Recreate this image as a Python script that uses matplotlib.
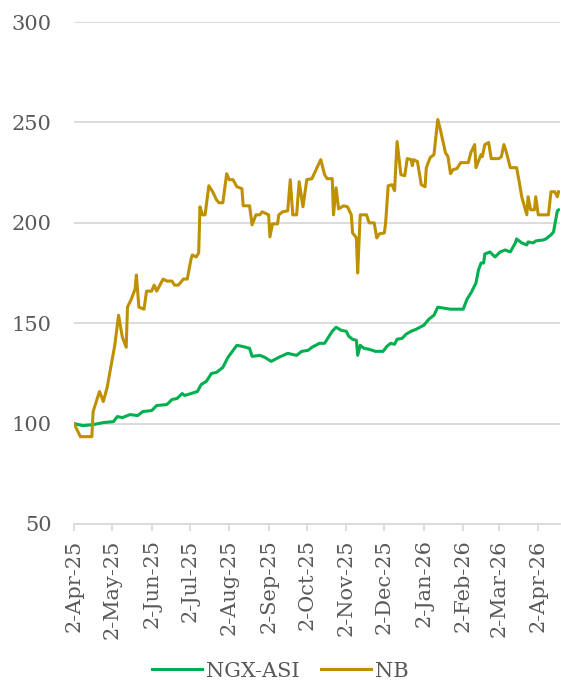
import numpy as np
import matplotlib
matplotlib.use("Agg")
from matplotlib import pyplot as plt
import matplotlib.dates as mdates

start = np.datetime64("2025-04-02")

# day offsets from 2-Apr-25 and rebased index levels
asi_days = [0, 7, 15, 23, 31, 34, 38, 44, 50, 54, 61, 65, 73, 77, 81, 85, 87, 92, 97, 100,
            104, 108, 112, 117, 121, 128, 132, 138, 140, 146, 150, 155, 161, 168, 175, 179,
            184, 187, 193, 197, 200, 203, 206, 210, 214, 216, 219, 222, 223, 225, 228, 232,
            237, 243, 246, 249, 252, 254, 258, 261, 265, 269, 275, 279, 283, 286, 291, 296,
            301, 306, 309, 312, 316, 318, 320, 322, 323, 327, 331, 335, 339, 343, 347, 348,
            352, 356, 357, 361, 363, 369, 371, 375, 377, 380, 381]
asi_vals = [100, 99, 99.5, 100.5, 101, 103.5, 103, 104.5, 104, 106, 106.5, 109, 109.5, 112,
            112.5, 115, 114, 115, 116, 119.5, 121, 125, 125.5, 128, 133, 139, 138.5, 137.5,
            133.5, 134, 133, 131, 133, 135, 134, 136, 136.5, 138, 140, 140, 143, 146, 148,
            146.5, 146, 143.5, 142, 141.5, 134, 139, 137.5, 137, 136, 136, 138.5, 140, 139.5,
            142, 142.5, 144.5, 146, 147, 149, 152, 154, 158, 157.5, 157, 157, 157, 162, 165,
            170, 176.5, 180, 180, 184.5, 185.5, 183, 185.5, 186.5, 185.5, 190, 192, 190, 189,
            190.5, 190, 191, 191.5, 192, 194, 195.5, 206, 206.5]

nb_days = [0, 5, 14, 15, 20, 23, 26, 28, 32, 35, 38, 41, 42, 45, 48, 49, 51, 55, 57, 61, 63,
           65, 70, 73, 77, 79, 82, 86, 89, 92, 93, 96, 98, 99, 101, 103, 106, 109, 112, 114,
           117, 120, 122, 125, 128, 132, 133, 138, 140, 143, 146, 148, 153, 154, 156, 160,
           161, 164, 168, 170, 172, 175, 177, 180, 183, 187, 190, 191, 194, 197, 199, 203,
           204, 206, 208, 212, 215, 218, 219, 222, 223, 225, 230, 232, 236, 238, 240, 244,
           245, 247, 250, 252, 254, 257, 260, 262, 265, 266, 267, 270, 273, 276, 277, 280,
           283, 286, 288, 292, 294, 296, 298, 301, 304, 310, 312, 315, 316, 320, 321, 323,
           326, 328, 334, 336, 338, 340, 343, 348, 350, 352, 356, 357, 359, 362, 363, 365,
           373, 375, 378, 380, 381]
nb_vals = [100, 93.5, 93.5, 106, 116, 111, 118, 125, 139, 154, 143, 138, 158, 162, 167, 174,
           158, 157, 166, 166, 169, 166, 172, 171, 171, 169, 169, 172, 172, 182, 184, 183, 185,
           208, 204, 204, 218.5, 215.5, 211.5, 210, 210, 224.5, 221.5, 221.5, 218, 217, 208.5,
           208.5, 199, 204, 204, 205.5, 204, 193, 199.5, 199.5, 204, 205.5, 206, 221.5, 204,
           204, 220.5, 208, 221.5, 222, 226, 227.5, 231.5, 224, 222, 222, 204, 217.5, 207,
           208.5, 208, 204, 195, 192.5, 175, 204, 204, 200, 200, 192.5, 194.5, 195, 200, 218.5,
           219, 216, 240.5, 224, 223.5, 232, 231.5, 228.5, 231.5, 230.5, 219, 218, 227.5,
           232.5, 234, 251.5, 246.5, 235, 233, 224.5, 226.5, 227, 230, 230, 235, 239, 227.5,
           234, 233, 239, 240, 232, 232, 233, 239, 235, 227.5, 227.5, 220.5, 213, 204, 213,
           206.5, 206.5, 213, 204, 204, 215.5, 215.5, 213, 215.5]

yticks = [50, 100, 150, 200, 250, 300]

txt = "#595959"
plt.rcParams["font.family"] = ["DejaVu Serif"]

fig = plt.figure(figsize=(5.61, 6.91), dpi=100)
ax = fig.add_axes([0.132, 0.2417, 0.866, 0.7263])

ax.plot(start + np.array(asi_days), asi_vals, color="#00b050", linewidth=2.2, label="NGX-ASI")
ax.plot(start + np.array(nb_days), nb_vals, color="#bf9000", linewidth=2.2, label="NB")

ax.set_ylim(50, 300)
ax.set_yticks(yticks)
ax.set_xlim(start, start + 382)
ax.xaxis.set_major_locator(mdates.MonthLocator(bymonthday=2))
ax.xaxis.set_major_formatter(mdates.DateFormatter("%-d-%b-%y"))

ax.grid(axis="y", color="#d9d9d9", linewidth=1.3)
ax.set_axisbelow(True)
for s in ["top", "right", "left"]:
    ax.spines[s].set_visible(False)
ax.spines["bottom"].set_color("#d9d9d9")
ax.spines["bottom"].set_linewidth(1.3)

ax.tick_params(axis="y", length=0, pad=16, labelsize=15, labelcolor=txt)
ax.tick_params(axis="x", length=5, width=1.3, color="#d9d9d9", pad=6,
               labelsize=15, labelcolor=txt, labelrotation=90)

fig.legend(loc="lower center", bbox_to_anchor=(0.5, 0.0), ncol=2, frameon=False,
           fontsize=15, labelcolor=txt, handlelength=2.4, handletextpad=0.2,
           columnspacing=1.0, borderaxespad=0.1)

fig.savefig("out.png", dpi=100)
